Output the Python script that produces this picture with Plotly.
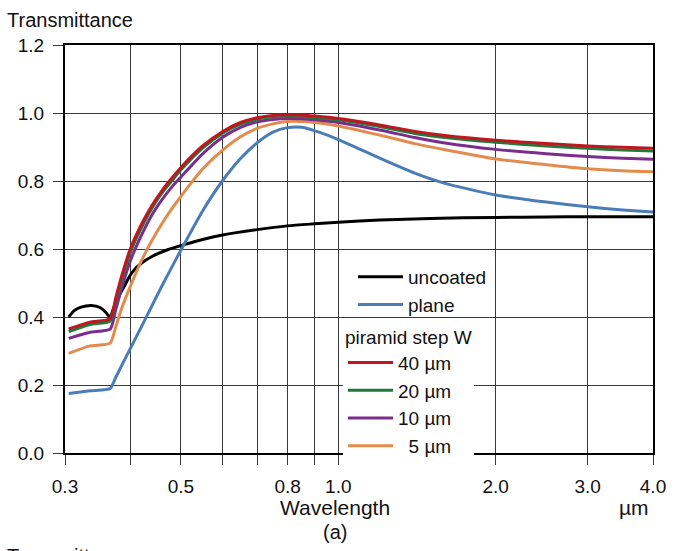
import plotly.graph_objects as go
import math

# ---------------- data ----------------
wl_uncoated = [0.305, 0.312, 0.322, 0.337, 0.350, 0.358, 0.366, 0.372, 0.380, 0.390, 0.397,
               0.405, 0.420, 0.440, 0.470, 0.505, 0.550, 0.600, 0.700, 0.800, 0.900, 1.000,
               1.200, 1.500, 2.000, 2.500, 3.000, 4.000]
t_uncoated = [0.400, 0.418, 0.429, 0.434, 0.428, 0.416, 0.400, 0.428, 0.460, 0.492, 0.515,
              0.535, 0.558, 0.578, 0.597, 0.612, 0.628, 0.641, 0.657, 0.668, 0.674, 0.679,
              0.685, 0.690, 0.693, 0.694, 0.695, 0.695]

wl = [0.305, 0.335, 0.366, 0.375, 0.385, 0.40, 0.42, 0.44, 0.46, 0.48, 0.50, 0.55, 0.60,
      0.65, 0.70, 0.75, 0.80, 0.85, 0.90, 1.0, 1.2, 1.4, 1.6, 2.0, 2.5, 3.0, 3.5, 4.0]

t_plane = [0.175, 0.183, 0.190, 0.222, 0.257, 0.307, 0.371, 0.433, 0.492, 0.546, 0.597, 0.712,
           0.800, 0.866, 0.913, 0.944, 0.957, 0.958, 0.948, 0.922, 0.867, 0.823, 0.793, 0.759,
           0.738, 0.724, 0.715, 0.709]
t_40um = [0.365, 0.385, 0.395, 0.455, 0.520, 0.600, 0.672, 0.728, 0.772, 0.808, 0.840, 0.903,
          0.945, 0.972, 0.986, 0.993, 0.995, 0.994, 0.991, 0.984, 0.965, 0.946, 0.934, 0.920,
          0.910, 0.903, 0.899, 0.896]
t_20um = [0.357, 0.378, 0.388, 0.447, 0.510, 0.590, 0.662, 0.720, 0.765, 0.800, 0.833, 0.897,
          0.940, 0.967, 0.982, 0.989, 0.991, 0.990, 0.987, 0.980, 0.960, 0.940, 0.928, 0.914,
          0.903, 0.896, 0.891, 0.888]
t_10um = [0.337, 0.355, 0.364, 0.420, 0.485, 0.565, 0.640, 0.700, 0.745, 0.782, 0.812, 0.880,
          0.928, 0.958, 0.974, 0.981, 0.984, 0.983, 0.980, 0.972, 0.950, 0.928, 0.912, 0.893,
          0.880, 0.872, 0.867, 0.864]
t_5um = [0.293, 0.315, 0.323, 0.370, 0.425, 0.490, 0.565, 0.625, 0.675, 0.718, 0.755, 0.835,
         0.890, 0.930, 0.955, 0.968, 0.975, 0.975, 0.972, 0.962, 0.935, 0.910, 0.892, 0.865,
         0.848, 0.836, 0.830, 0.827]

x_tickvals = [0.3, 0.4, 0.5, 0.6, 0.7, 0.8, 0.9, 1.0, 2.0, 3.0, 4.0]
x_ticktext = ["0.3", "", "0.5", "", "", "0.8", "", "1.0", "2.0", "3.0", "4.0"]
y_tickvals = [0.0, 0.2, 0.4, 0.6, 0.8, 1.0, 1.2]

FONT = "Liberation Sans, Arial, sans-serif"
SMOOTH = 0.6

fig = go.Figure()
fig.add_trace(go.Scatter(x=wl_uncoated, y=t_uncoated, mode="lines", name="uncoated",
                         line=dict(color="#000000", width=3, shape="spline", smoothing=SMOOTH),
                         legend="legend"))
fig.add_trace(go.Scatter(x=wl, y=t_plane, mode="lines", name="plane",
                         line=dict(color="#4a7db8", width=3, shape="spline", smoothing=SMOOTH),
                         legend="legend"))
fig.add_trace(go.Scatter(x=wl, y=t_5um, mode="lines", name="\u20075 µm",
                         line=dict(color="#e38b4c", width=3, shape="spline", smoothing=SMOOTH),
                         legend="legend2"))
fig.add_trace(go.Scatter(x=wl, y=t_10um, mode="lines", name="10 µm",
                         line=dict(color="#7b2d8e", width=3, shape="spline", smoothing=SMOOTH),
                         legend="legend2"))
fig.add_trace(go.Scatter(x=wl, y=t_20um, mode="lines", name="20 µm",
                         line=dict(color="#1f7a3c", width=3, shape="spline", smoothing=SMOOTH),
                         legend="legend2"))
fig.add_trace(go.Scatter(x=wl, y=t_40um, mode="lines", name="40 µm",
                         line=dict(color="#c0161f", width=3, shape="spline", smoothing=SMOOTH),
                         legend="legend2"))

L, R, T, B = 65, 24, 45, 98
W, H = 677, 551
pw, ph = W - L - R, H - T - B

def px(xp):
    return (xp - L) / pw

def py(yp):
    return (H - B - yp) / ph

fig.update_layout(
    width=W, height=H,
    margin=dict(l=L, r=R, t=T, b=B),
    paper_bgcolor="white", plot_bgcolor="white",
    font=dict(family=FONT, size=18, color="#111111"),
    showlegend=True,
    legend=dict(x=px(353), y=py(258), xanchor="left", yanchor="top",
                bgcolor="rgba(0,0,0,0)", font=dict(size=19),
                tracegroupgap=0, itemwidth=45),
    legend2=dict(x=px(343), y=py(319), xanchor="left", yanchor="top",
                 bgcolor="white", font=dict(size=19),
                 title=dict(text="piramid step W", font=dict(size=19)),
                 traceorder="reversed", itemwidth=45),
    xaxis=dict(type="log", range=[math.log10(0.3), math.log10(4.0)],
               tickvals=x_tickvals, ticktext=x_ticktext,
               showgrid=True, gridcolor="#3a3a3a", gridwidth=1,
               showline=True, linecolor="black", linewidth=2, mirror=True,
               ticks="outside", ticklen=10, tickcolor="#3a3a3a", tickwidth=1,
               ticklabelstandoff=5,
               tickfont=dict(size=19), zeroline=False),
    yaxis=dict(range=[0, 1.2], tickvals=y_tickvals, tickformat=".1f",
               showgrid=True, gridcolor="#3a3a3a", gridwidth=1,
               showline=True, linecolor="black", linewidth=2, mirror=True,
               ticks="outside", ticklen=10, tickcolor="#3a3a3a", tickwidth=1,
               ticklabelstandoff=5,
               tickfont=dict(size=19), zeroline=False),
    annotations=[
        dict(text="Transmittance", xref="paper", yref="paper", x=px(5), y=py(20),
             xanchor="left", yanchor="middle", showarrow=False, font=dict(size=20)),
        dict(text="Wavelength", xref="paper", yref="paper", x=px(335), y=py(507),
             xanchor="center", yanchor="middle", showarrow=False, font=dict(size=21)),
        dict(text="(a)", xref="paper", yref="paper", x=px(335), y=py(532),
             xanchor="center", yanchor="middle", showarrow=False, font=dict(size=20)),
        dict(text="µm", xref="paper", yref="paper", x=px(634), y=py(507),
             xanchor="center", yanchor="middle", showarrow=False, font=dict(size=21)),
        dict(text="Transmittance", xref="paper", yref="paper", x=px(5), y=py(543),
             xanchor="left", yanchor="top", showarrow=False, font=dict(size=20)),
    ],
)

fig.write_html("out.html")
